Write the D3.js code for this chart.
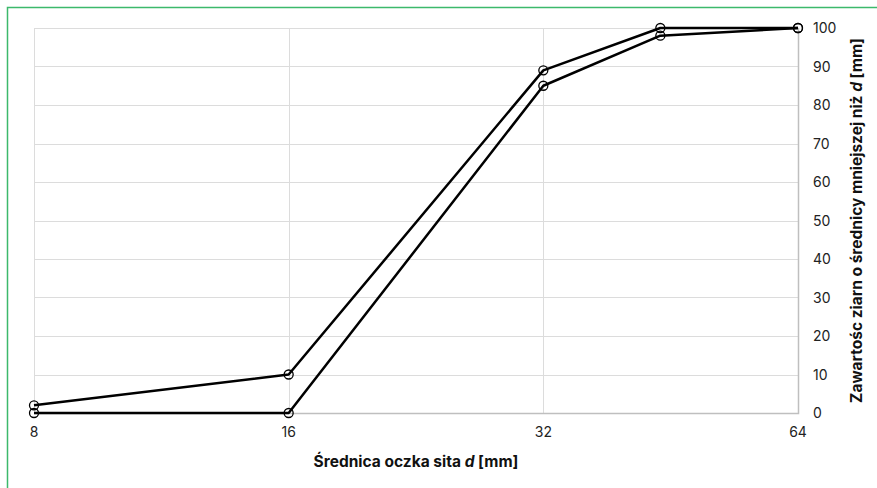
<!DOCTYPE html>
<html>
<head>
<meta charset="utf-8">
<script src="https://cdn.jsdelivr.net/npm/d3@7"></script>
<style>
    body { margin: 0; background: #fff; }
    svg { display: block; font-family: Inter, "Noto Sans", sans-serif; }
    .grid line { stroke: #dcdcdc; stroke-width: 1; }
    .axis-text { font-size: 14px; fill: #222; }
    .title { font-size: 15.5px; font-weight: bold; fill: #111; }
</style>
</head>
<body>
<div id="chart"></div>
<script>
// sieve sizes [mm] and passing percentage for the two curves
let sizes = [8, 16, 32, 44, 64];
let upperCurve = [2, 10, 89, 100, 100];
let lowerCurve = [0, 0, 85, 98, 100];
let xTicks = [8, 16, 32, 64];
let yTicks = [0, 10, 20, 30, 40, 50, 60, 70, 80, 90, 100];

let WIDTH = 877;
let HEIGHT = 488;
let plot = { left: 34, right: 798, top: 28, bottom: 413 };

let svg = d3.select("#chart")
    .append("svg")
    .attr("width", WIDTH)
    .attr("height", HEIGHT);

// green frame: only top and left edges are in view
svg.append("path")
    .attr("d", `M7.5,${HEIGHT} V7.5 H${WIDTH}`)
    .attr("fill", "none")
    .attr("stroke", "#3cb96b")
    .attr("stroke-width", 1.5);

let x = d3.scaleLog().base(2)
    .domain([8, 64])
    .range([plot.left, plot.right]);
let y = d3.scaleLinear()
    .domain([0, 100])
    .range([plot.bottom, plot.top]);

// gridlines
let grid = svg.append("g").classed("grid", true);
grid.selectAll("line.h")
    .data(yTicks)
    .enter().append("line")
    .attr("x1", plot.left).attr("x2", plot.right)
    .attr("y1", d => Math.round(y(d)) + 0.5)
    .attr("y2", d => Math.round(y(d)) + 0.5);
grid.selectAll("line.v")
    .data(xTicks)
    .enter().append("line")
    .attr("y1", plot.top).attr("y2", plot.bottom)
    .attr("x1", d => Math.round(x(d)) + 0.5)
    .attr("x2", d => Math.round(x(d)) + 0.5);

// axis lines (bottom and right)
svg.append("path")
    .attr("d", `M${plot.left},${plot.bottom + 0.5} H${plot.right + 0.5} V${plot.top}`)
    .attr("fill", "none")
    .attr("stroke", "#bfbfbf")
    .attr("stroke-width", 1.5);

// x tick labels
svg.append("g").selectAll("text")
    .data(xTicks)
    .enter().append("text")
    .classed("axis-text", true)
    .attr("x", d => x(d))
    .attr("y", plot.bottom + 24)
    .attr("text-anchor", "middle")
    .text(d => d);

// y tick labels on the right
svg.append("g").selectAll("text")
    .data(yTicks)
    .enter().append("text")
    .classed("axis-text", true)
    .attr("x", plot.right + 15)
    .attr("y", d => y(d) + 5)
    .text(d => d);

// axis titles
let xTitle = svg.append("text")
    .classed("title", true)
    .attr("x", (plot.left + plot.right) / 2)
    .attr("y", 467)
    .attr("text-anchor", "middle");
xTitle.append("tspan").text("Średnica oczka sita ");
xTitle.append("tspan").attr("font-style", "italic").text("d");
xTitle.append("tspan").text(" [mm]");

let yTitle = svg.append("text")
    .classed("title", true)
    .attr("text-anchor", "middle")
    .attr("transform", `translate(862, ${(plot.top + plot.bottom) / 2}) rotate(-90)`);
yTitle.append("tspan").text("Zawartośc ziarn o średnicy mniejszej niż ");
yTitle.append("tspan").attr("font-style", "italic").text("d");
yTitle.append("tspan").text(" [mm]");

// curves
let line = d3.line()
    .x(d => x(d[0]))
    .y(d => y(d[1]));

[upperCurve, lowerCurve].forEach(values => {
    let pts = sizes.map((s, i) => [s, values[i]]);
    let g = svg.append("g");
    g.append("path")
        .datum(pts)
        .attr("d", line)
        .attr("fill", "none")
        .attr("stroke", "#000")
        .attr("stroke-width", 2.5)
        .attr("stroke-linejoin", "round");
    g.selectAll("circle")
        .data(pts)
        .enter().append("circle")
        .attr("cx", d => x(d[0]))
        .attr("cy", d => y(d[1]))
        .attr("r", 4.5)
        .attr("fill", "none")
        .attr("stroke", "#000")
        .attr("stroke-width", 1.3);
});
</script>
</body>
</html>
